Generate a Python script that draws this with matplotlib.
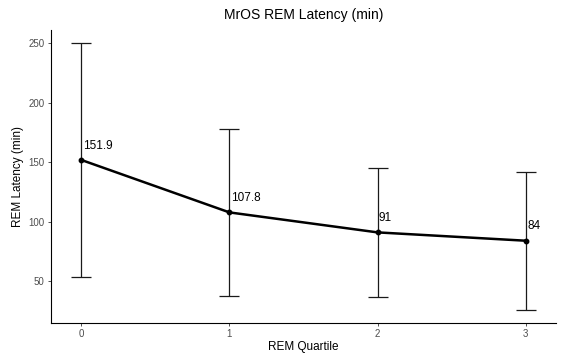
import matplotlib.pyplot as plt

plt.rcParams["font.family"] = ["Liberation Sans", "DejaVu Sans"]

# mean REM latency by REM quartile, with +/- SD
quartiles = [0, 1, 2, 3]
mean_latency = [151.9, 107.8, 91, 84]
sd_latency = [98.0, 70.5, 54.0, 58.0]
labels = ["151.9", "107.8", "91", "84"]

fig = plt.figure(figsize=(5.85, 3.56), dpi=100)
ax = fig.add_axes([51 / 585, 33 / 356, 505 / 585, 293 / 356])

ax.errorbar(
    quartiles,
    mean_latency,
    yerr=sd_latency,
    fmt="none",
    ecolor="#1a1a1a",
    elinewidth=0.9,
    capsize=7.5,
    capthick=0.9,
)
ax.plot(quartiles, mean_latency, color="black", linewidth=1.8, marker="o", markersize=3.2)
for x, y, t in zip(quartiles, mean_latency, labels):
    ax.annotate(
        t, (x, y), xytext=(1, 6), textcoords="offset points",
        ha="left", va="bottom", fontsize=8.5, color="black",
    )

ax.set_xlim(-0.205, 3.205)
ax.set_ylim(14.8, 261.2)
ax.set_xticks(quartiles)
ax.set_yticks([50, 100, 150, 200, 250])
ax.tick_params(axis="both", labelsize=7, labelcolor="#4d4d4d", color="#333333",
               length=2.5, width=0.6, pad=2)
ax.spines["top"].set_visible(False)
ax.spines["right"].set_visible(False)
ax.spines["left"].set_linewidth(0.8)
ax.spines["bottom"].set_linewidth(0.8)

ax.set_xlabel("REM Quartile", fontsize=8.5, labelpad=1)
ax.set_ylabel("REM Latency (min)", fontsize=8.5, labelpad=3)
ax.set_title("MrOS REM Latency (min)", fontsize=10, pad=8)

fig.savefig("out.png", dpi=100)
